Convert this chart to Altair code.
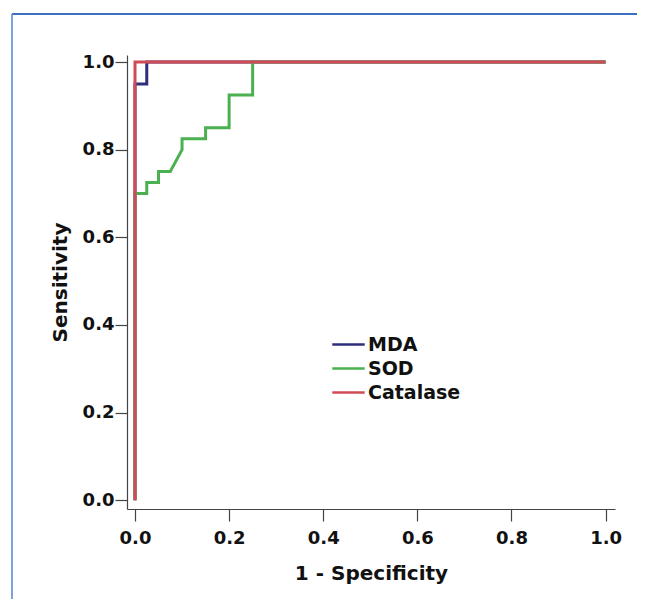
import altair as alt
import pandas as pd

series_names = ["MDA", "SOD", "Catalase"]
series_colors = ["#2e2f7c", "#4bb04f", "#d04b55"]

mda_x = [0.0, 0.0, 0.025, 0.025, 1.0]
mda_y = [0.0, 0.95, 0.95, 1.0, 1.0]

sod_x = [0.0, 0.0, 0.025, 0.025, 0.05, 0.05, 0.075, 0.1, 0.1, 0.15, 0.15, 0.2, 0.2, 0.25, 0.25, 1.0]
sod_y = [0.0, 0.70, 0.70, 0.725, 0.725, 0.75, 0.75, 0.80, 0.825, 0.825, 0.85, 0.85, 0.925, 0.925, 1.0, 1.0]

cat_x = [0.0, 0.0, 1.0]
cat_y = [0.0, 1.0, 1.0]

tick_values = [0.0, 0.2, 0.4, 0.6, 0.8, 1.0]

rows = []
for name, xs, ys in [("MDA", mda_x, mda_y), ("SOD", sod_x, sod_y), ("Catalase", cat_x, cat_y)]:
    for i, (a, b) in enumerate(zip(xs, ys)):
        rows.append({"series": name, "fpr": a, "tpr": b, "idx": i})
df = pd.DataFrame(rows)

FONT = "DejaVu Sans"
W, H = 488, 454
PAD = {"left": 119, "top": 47, "right": 22, "bottom": 90}

one = pd.DataFrame({"k": [0]})
frame_top = alt.Chart(one).mark_rule(stroke="#3a6fc2", strokeWidth=1.8, clip=False).encode(
    x=alt.value(-115), x2=alt.value(W + PAD["right"] + 5), y=alt.value(-41)
)
frame_left = alt.Chart(one).mark_rule(stroke="#5b8bd0", strokeWidth=1.6, clip=False).encode(
    x=alt.value(-115), y=alt.value(-41), y2=alt.value(H + PAD["bottom"] + 5)
)

axis_style = dict(
    values=tick_values, format=".1f", grid=False,
    domainColor="#444", domainWidth=1.2, tickColor="#444", tickWidth=1.2, tickSize=12,
    labelFont=FONT, labelFontSize=18, labelFontWeight="bold", labelColor="#111",
    titleFont=FONT, titleFontSize=20, titleFontWeight="bold", titleColor="#111",
)

lines = alt.Chart(df).mark_line(strokeWidth=3, interpolate="linear").encode(
    x=alt.X("fpr:Q", scale=alt.Scale(domain=[-0.017, 1.02], nice=False, zero=False),
            axis=alt.Axis(title="1 - Specificity", labelPadding=8, titlePadding=16, **axis_style)),
    y=alt.Y("tpr:Q", scale=alt.Scale(domain=[-0.02, 1.016], nice=False, zero=False),
            axis=alt.Axis(title="Sensitivity", labelPadding=1, titlePadding=12, **axis_style)),
    color=alt.Color("series:N", scale=alt.Scale(domain=series_names, range=series_colors),
                    legend=alt.Legend(title=None, orient="none", legendX=208, legendY=276,
                                      symbolType="M-1.35,0H1.35", symbolSize=576, symbolStrokeWidth=2.5,
                                      symbolFillColor="transparent",
                                      labelFont=FONT, labelFontSize=19, labelFontWeight="bold",
                                      labelColor="#111", labelOffset=6, rowPadding=0)),
    order=alt.Order("idx:Q"),
    detail="series:N",
)

chart = alt.layer(frame_top, frame_left, lines).properties(
    width=W, height=H,
    autosize=alt.AutoSizeParams(type="none"),
    padding=PAD,
).configure_view(stroke=None)

chart.save("out.html", embed_options={"renderer": "svg", "actions": False})
